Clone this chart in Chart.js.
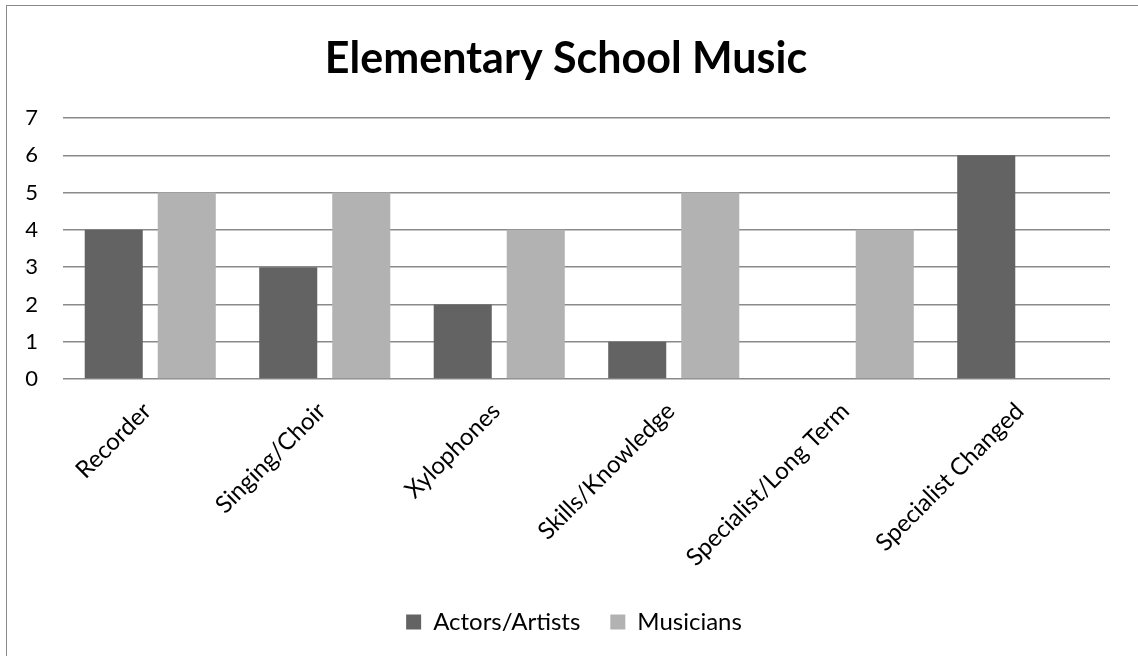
<!DOCTYPE html>
<html>
<head>
<meta charset="utf-8">
<script src="https://cdn.jsdelivr.net/npm/chart.js@4"></script>
<style>
  html, body { margin: 0; padding: 0; background: #fff; overflow: hidden; }
  #frame {
    position: absolute; left: 6px; top: 5px; width: 1300px; height: 800px;
    border: 1.5px solid #8a8a8a; box-sizing: border-box;
  }
  #wrap { position: absolute; left: 0; top: 0; width: 1138px; height: 656px; }
</style>
</head>
<body>
<div id="frame"></div>
<div id="wrap"><canvas id="chart"></canvas></div>
<script>
const categories = ['Recorder', 'Singing/Choir', 'Xylophones', 'Skills/Knowledge', 'Specialist/Long Term', 'Specialist Changed'];
const actorsArtists = [4, 3, 2, 1, 0, 6];
const musicians = [5, 5, 4, 5, 4, 0];
const yTicks = [0, 1, 2, 3, 4, 5, 6, 7];

const FONT = "Lato, 'Open Sans', sans-serif";

// nudge the legend a little to the right of the canvas centre
const legendShift = {
  id: 'legendShift',
  afterLayout(chart) {
    const lg = chart.legend;
    if (!lg) return;
    lg.left += 8;
    lg.right += 8;
  }
};

const ctx = document.getElementById('chart').getContext('2d');
new Chart(ctx, {
  type: 'bar',
  data: {
    labels: categories,
    datasets: [
      {
        label: 'Actors/Artists',
        data: actorsArtists,
        backgroundColor: '#636363',
        barPercentage: 0.795,
        categoryPercentage: 0.837
      },
      {
        label: 'Musicians',
        data: musicians,
        backgroundColor: '#b2b2b2',
        barPercentage: 0.795,
        categoryPercentage: 0.837
      }
    ]
  },
  plugins: [legendShift],
  options: {
    responsive: true,
    maintainAspectRatio: false,
    animation: false,
    layout: { padding: { left: 0, right: 6, top: 0, bottom: 12 } },
    plugins: {
      title: {
        display: true,
        text: 'Elementary School Music',
        color: '#000',
        font: { family: FONT, size: 43, weight: 'bold' },
        padding: { top: 33, bottom: 33.4 }
      },
      legend: {
        position: 'bottom',
        labels: {
          color: '#000',
          font: { family: FONT, size: 24 },
          boxWidth: 15,
          boxHeight: 15,
          padding: 30
        }
      },
      tooltip: { enabled: false }
    },
    scales: {
      x: {
        grid: { display: false },
        border: { display: false },
        ticks: {
          color: '#000',
          font: { family: FONT, size: 24 },
          minRotation: 45,
          maxRotation: 45,
          padding: 10,
          labelOffset: -3
        },
        afterFit: (scale) => { scale.height = 201; }
      },
      y: {
        min: 0,
        max: 7,
        afterBuildTicks: (scale) => { scale.ticks = yTicks.map(v => ({ value: v })); },
        grid: { color: '#8a8a8a', lineWidth: 1.5, drawTicks: false },
        border: { display: false },
        ticks: {
          color: '#000',
          font: { family: FONT, size: 22 },
          padding: 25
        },
        afterFit: (scale) => { scale.width = 63; }
      },
      // empty spacer on the right so the plot stops short of the frame
      spacer: {
        type: 'linear',
        position: 'right',
        display: true,
        grid: { display: false },
        border: { display: false },
        ticks: { display: false },
        afterFit: (scale) => { scale.width = 22; }
      }
    }
  }
});
</script>
</body>
</html>
